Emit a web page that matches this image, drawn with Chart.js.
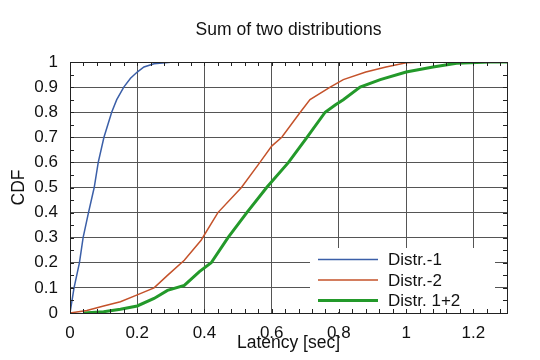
<!DOCTYPE html>
<html>
<head>
<meta charset="utf-8">
<title>Sum of two distributions</title>
<script src="https://cdn.jsdelivr.net/npm/chart.js@4.4.1/dist/chart.umd.min.js"></script>
<style>
  body { margin: 0; background: #fff; }
</style>
</head>
<body>
<canvas id="cdfChart" width="540" height="360"></canvas>
<script>
// DATA
const chartTitle = 'Sum of two distributions';
const xTitle = 'Latency [sec]';
const yTitle = 'CDF';
const seriesNames = ['Distr.-1', 'Distr.-2', 'Distr. 1+2'];
const xTicks = [0, 0.2, 0.4, 0.6, 0.8, 1, 1.2];
const yTicks = [0, 0.1, 0.2, 0.3, 0.4, 0.5, 0.6, 0.7, 0.8, 0.9, 1];

const dist1X = [0, 0.012, 0.028, 0.039, 0.055, 0.072, 0.084, 0.101, 0.124, 0.139, 0.16, 0.18, 0.2, 0.22, 0.25, 0.3, 0.355];
const dist1Y = [0, 0.1, 0.2, 0.3, 0.4, 0.5, 0.6, 0.7, 0.8, 0.85, 0.9, 0.935, 0.96, 0.98, 0.993, 0.999, 1];

const dist2X = [0, 0.05, 0.1, 0.15, 0.2, 0.25, 0.29, 0.34, 0.39, 0.44, 0.51, 0.565, 0.6, 0.63, 0.685, 0.714, 0.774, 0.813, 0.88, 0.94, 1.0, 1.05];
const dist2Y = [0, 0.01, 0.028, 0.045, 0.072, 0.1, 0.15, 0.21, 0.29, 0.4, 0.5, 0.6, 0.665, 0.7, 0.8, 0.85, 0.9, 0.93, 0.96, 0.98, 0.997, 1];

const sumX = [0.04, 0.1, 0.15, 0.2, 0.25, 0.29, 0.34, 0.385, 0.42, 0.47, 0.526, 0.585, 0.65, 0.705, 0.759, 0.79, 0.813, 0.863, 0.923, 1.0, 1.08, 1.15, 1.25, 1.3];
const sumY = [0, 0.005, 0.015, 0.028, 0.058, 0.09, 0.11, 0.165, 0.2, 0.3, 0.4, 0.5, 0.6, 0.7, 0.8, 0.83, 0.85, 0.9, 0.93, 0.96, 0.98, 0.995, 1, 1];

const FONT = '"Liberation Sans", Arial, sans-serif';
const TEXT = '#111';

function pts(xs, ys) {
    return xs.map((x, i) => ({ x: x, y: ys[i] }));
}

// frame + minor ticks + title + legend box
const decorations = {
    id: 'decorations',
    afterDatasetsDraw(chart) {
        const ctx = chart.ctx;
        const ca = chart.chartArea;
        const left = ca.left + 240, right = ca.right - 12;
        const top = ca.bottom - 65, bottom = ca.bottom - 1;
        ctx.save();
        ctx.fillStyle = '#fff';
        ctx.fillRect(left, top, right - left, bottom - top);
        ctx.font = '17px ' + FONT;
        ctx.textBaseline = 'middle';
        ctx.textAlign = 'left';
        chart.data.datasets.forEach((ds, i) => {
            const y = top + 11.5 + i * 20.5;
            ctx.strokeStyle = ds.borderColor;
            ctx.lineWidth = ds.borderWidth;
            ctx.beginPath();
            ctx.moveTo(left + 8, y);
            ctx.lineTo(left + 68, y);
            ctx.stroke();
            ctx.fillStyle = TEXT;
            ctx.fillText(ds.label, left + 78, y + 1);
        });
        ctx.restore();
    },
    afterDraw(chart) {
        const ctx = chart.ctx;
        const ca = chart.chartArea;
        const xs = chart.scales.x, ys = chart.scales.y;
        ctx.save();
        ctx.strokeStyle = '#222';
        ctx.lineWidth = 1;
        ctx.beginPath();
        for (let i = 0; i * 0.04 <= 1.3001; i++) {
            const px = Math.round(xs.getPixelForValue(i * 0.04)) + 0.5;
            ctx.moveTo(px, ca.bottom); ctx.lineTo(px, ca.bottom - 4);
            ctx.moveTo(px, ca.top); ctx.lineTo(px, ca.top + 4);
        }
        for (let i = 0; i * 0.05 <= 1.0001; i++) {
            const py = Math.round(ys.getPixelForValue(i * 0.05)) + 0.5;
            ctx.moveTo(ca.left, py); ctx.lineTo(ca.left + 4, py);
            ctx.moveTo(ca.right, py); ctx.lineTo(ca.right - 4, py);
        }
        ctx.stroke();
        ctx.strokeRect(Math.round(ca.left) + 0.5, Math.round(ca.top) + 0.5,
            Math.round(ca.right - ca.left), Math.round(ca.bottom - ca.top));

        ctx.fillStyle = TEXT;
        ctx.font = '17.5px ' + FONT;
        ctx.textAlign = 'center';
        ctx.textBaseline = 'middle';
        ctx.fillText(chartTitle, (ca.left + ca.right) / 2, 30);
        ctx.restore();
    }
};

new Chart(document.getElementById('cdfChart'), {
    type: 'line',
    data: {
        datasets: [
            { label: seriesNames[0], data: pts(dist1X, dist1Y), borderColor: '#3b5fa8', borderWidth: 1.5 },
            { label: seriesNames[1], data: pts(dist2X, dist2Y), borderColor: '#c4522a', borderWidth: 1.5 },
            { label: seriesNames[2], data: pts(sumX, sumY), borderColor: '#23992a', borderWidth: 3 }
        ]
    },
    options: {
        responsive: false,
        animation: false,
        layout: { padding: { top: 62, right: 33, left: 0, bottom: 0 } },
        elements: { point: { radius: 0 }, line: { tension: 0, fill: false } },
        plugins: {
            legend: { display: false },
            title: { display: false },
            tooltip: { enabled: false }
        },
        scales: {
            x: {
                type: 'linear', min: 0, max: 1.3,
                afterBuildTicks: s => { s.ticks = xTicks.map(v => ({ value: v })); },
                afterFit: s => { s.height = 47; },
                ticks: {
                    font: { family: FONT, size: 17 }, color: TEXT, padding: 10,
                    maxRotation: 0, autoSkip: false, callback: v => String(v)
                },
                grid: { color: '#555', lineWidth: 1, drawTicks: false },
                border: { color: '#222', width: 1 },
                title: {
                    display: true, text: xTitle, color: TEXT,
                    font: { family: FONT, size: 17.5 }, padding: { top: 0, bottom: 6.5 }
                }
            },
            y: {
                type: 'linear', min: 0, max: 1,
                afterBuildTicks: s => { s.ticks = yTicks.map(v => ({ value: v })); },
                afterFit: s => { s.width = 70; },
                ticks: {
                    font: { family: FONT, size: 17 }, color: TEXT, padding: 12,
                    autoSkip: false, callback: v => String(v)
                },
                grid: { color: '#555', lineWidth: 1, drawTicks: false },
                border: { color: '#222', width: 1 },
                title: {
                    display: true, text: yTitle, color: TEXT,
                    font: { family: FONT, size: 17.5 }, padding: { top: 9, bottom: 0 }
                }
            }
        }
    },
    plugins: [decorations]
});
</script>
</body>
</html>
